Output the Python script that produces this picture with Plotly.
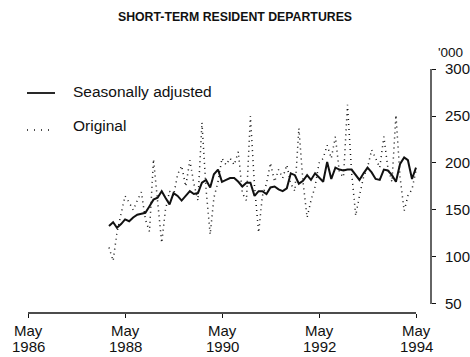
import pandas as pd
import plotly.graph_objects as go

# Monthly short-term resident departures ('000), January 1988 to May 1994
first_month = "1988-01-01"
n_months = 77
months = pd.date_range(first_month, periods=n_months, freq="MS")

seasonally_adjusted = [
    133, 137, 131, 135, 140, 138, 142, 145, 146, 147, 154, 161,   # 1988
    163, 170, 163, 156, 168, 165, 160, 165, 170, 167, 168, 179,   # 1989
    182, 174, 188, 193, 180, 182, 184, 184, 180, 175, 179, 179,   # 1990
    165, 170, 170, 167, 174, 175, 172, 170, 173, 189, 187, 178,   # 1991
    181, 187, 182, 189, 185, 180, 201, 183, 195, 193, 192, 193,   # 1992
    193, 187, 182, 189, 195, 190, 183, 182, 193, 192, 187, 180,   # 1993
    199, 206, 203, 183, 195,                                      # 1994
]

original = [
    110, 96, 126, 145, 165, 158, 150, 160, 169, 140, 127, 204,    # 1988
    160, 115, 150, 170, 165, 188, 197, 175, 203, 178, 160, 243,   # 1989
    172, 124, 163, 180, 205, 198, 205, 198, 212, 168, 160, 250,   # 1990
    175, 126, 165, 178, 200, 180, 193, 184, 198, 178, 170, 237,   # 1991
    180, 142, 160, 175, 200, 205, 219, 205, 228, 190, 185, 262,   # 1992
    190, 144, 165, 185, 195, 214, 205, 195, 228, 195, 180, 251,   # 1993
    185, 149, 165, 172, 192,                                      # 1994
]

x_tick_dates = ["1986-05-01", "1988-05-01", "1990-05-01", "1992-05-01", "1994-05-01"]
x_tick_months = ["May", "May", "May", "May", "May"]
x_tick_years = ["1986", "1988", "1990", "1992", "1994"]
y_tick_values = [50, 100, 150, 200, 250, 300]

FONT = "Liberation Sans, Arial, Helvetica, sans-serif"
INK = "#111111"

# plot area in pixels (used to place the hand-drawn legend)
W, H = 470, 357
L, R, T, B = 28, 39, 69, 44
PW, PH = W - L - R, H - T - B


def px_x(x):
    return (x - L) / PW


def px_y(y):
    return (H - B - y) / PH


fig = go.Figure()
fig.add_trace(go.Scatter(
    x=months, y=original, mode="lines", name="Original",
    line=dict(color=INK, width=1.5, dash="1px,4px"), showlegend=False,
))
fig.add_trace(go.Scatter(
    x=months, y=seasonally_adjusted, mode="lines", name="Seasonally adjusted",
    line=dict(color=INK, width=2), showlegend=False,
))

# axis lines: x spans the labelled years, y spans 50-300
fig.add_shape(type="line", xref="x", yref="paper",
              x0=x_tick_dates[0], x1=x_tick_dates[-1], y0=0, y1=0,
              line=dict(color=INK, width=1.3))
fig.add_shape(type="line", xref="paper", yref="y",
              x0=1, x1=1, y0=y_tick_values[0], y1=y_tick_values[-1],
              line=dict(color=INK, width=1.3))

# two-line date labels under the x ticks
for d, mth, yr in zip(x_tick_dates, x_tick_months, x_tick_years):
    fig.add_annotation(text=mth, x=d, xref="x", y=0, yref="paper",
                       yshift=-17, xanchor="center", yanchor="middle",
                       showarrow=False, font=dict(family=FONT, size=15, color=INK))
    fig.add_annotation(text=yr, x=d, xref="x", y=0, yref="paper",
                       yshift=-33, xanchor="center", yanchor="middle",
                       showarrow=False, font=dict(family=FONT, size=15, color=INK))

# legend drawn by hand, top left
fig.add_shape(type="line", xref="paper", yref="paper",
              x0=px_x(27), x1=px_x(55), y0=px_y(93), y1=px_y(93),
              line=dict(color=INK, width=1.8))
fig.add_shape(type="line", xref="paper", yref="paper",
              x0=px_x(27), x1=px_x(52), y0=px_y(130), y1=px_y(130),
              line=dict(color=INK, width=1.4, dash="1px,6px"))
fig.add_annotation(text="Seasonally adjusted", xref="paper", yref="paper",
                   x=px_x(71), y=px_y(91), xanchor="left", yanchor="middle",
                   showarrow=False, font=dict(family=FONT, size=15.5, color=INK))
fig.add_annotation(text="Original", xref="paper", yref="paper",
                   x=px_x(71), y=px_y(125), xanchor="left", yanchor="middle",
                   showarrow=False, font=dict(family=FONT, size=15.5, color=INK))

# unit label above the value axis
fig.add_annotation(text="'000", xref="paper", yref="paper",
                   x=px_x(436), y=px_y(53), xanchor="left", yanchor="middle",
                   showarrow=False, font=dict(family=FONT, size=13.5, color=INK))

fig.update_layout(
    width=W, height=H,
    margin=dict(l=L, r=R, t=T, b=B, autoexpand=False),
    paper_bgcolor="white", plot_bgcolor="white",
    font=dict(family=FONT, size=15, color=INK),
    title=dict(text="<b>SHORT-TERM RESIDENT DEPARTURES</b>",
               x=0.5, xanchor="center", y=1 - 17 / H, yanchor="middle",
               font=dict(family=FONT, size=12.3, color=INK)),
    xaxis=dict(
        type="date", range=["1986-05-01", "1994-08-22"],
        tickvals=x_tick_dates, showticklabels=False, automargin=False,
        ticks="outside", ticklen=4, tickwidth=1.3, tickcolor=INK,
        showgrid=False, zeroline=False, showline=False,
    ),
    yaxis=dict(
        range=[40.4, 300], side="right", automargin=False,
        tickvals=y_tick_values,
        ticks="outside", ticklen=4, tickwidth=1.3, tickcolor=INK,
        ticklabelstandoff=6,
        showgrid=False, zeroline=False, showline=False,
        tickfont=dict(family=FONT, size=15, color=INK),
    ),
)

fig.write_html("out.html")
